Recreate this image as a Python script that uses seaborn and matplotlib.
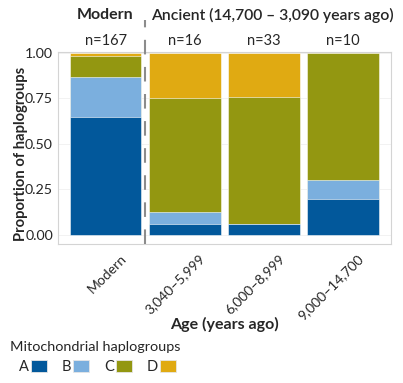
import matplotlib
matplotlib.use("Agg")
import matplotlib.pyplot as plt
import matplotlib.transforms as mtransforms
import pandas as pd
import seaborn as sns
from matplotlib.patches import Patch

# data: haplogroup counts per age group
ages = ["Modern", "3,040–5,999", "6,000–8,999", "9,000–14,700"]
haplogroups = ["A", "B", "C", "D"]
count_a = [108, 1, 2, 2]
count_b = [37, 1, 0, 1]
count_c = [19, 10, 23, 7]
count_d = [3, 4, 8, 0]
colors = {"A": "#02589B", "B": "#7BAFDE", "C": "#939711", "D": "#E0AA12"}

df = pd.DataFrame({"age": ages, "A": count_a, "B": count_b, "C": count_c, "D": count_d})
df["n"] = df[haplogroups].sum(axis=1)
for h in haplogroups:
    df[h] = df[h] / df["n"]

sns.set_style("white")
plt.rcParams["font.family"] = ["Lato", "DejaVu Sans"]

fig = plt.figure(figsize=(4.03, 3.83), dpi=100)
ax = fig.add_axes([0.145, 0.363, 0.824, 0.501])

# stacked bars: draw cumulative totals from top down
for i in range(len(haplogroups), 0, -1):
    h = haplogroups[i - 1]
    cum = df[haplogroups[:i]].sum(axis=1)
    sns.barplot(x=df["age"], y=cum, color=colors[h], width=0.9,
                edgecolor="white", linewidth=0.4, ax=ax, saturation=1)

ax.set_xlim(-0.6, 3.6)
ax.set_ylim(-0.05, 1.005)
ax.set_yticks([0, 0.25, 0.5, 0.75, 1.0])
ax.set_yticklabels(["0.00", "0.25", "0.50", "0.75", "1.00"])
ax.grid(axis="y", color="#f0f0f0", linewidth=0.6)
ax.set_axisbelow(True)
for s in ax.spines.values():
    s.set_color("#d4d4d4")
    s.set_linewidth(0.8)
ax.tick_params(axis="both", length=2, color="#555555", labelsize=10.3, pad=2)
ax.tick_params(axis="x", labelsize=10)
ax.set_xticks(range(len(ages)))
ax.set_xticklabels(ages, rotation=45, ha="right", rotation_mode="anchor")
shift = mtransforms.ScaledTranslation(14 / 100, -3 / 100, fig.dpi_scale_trans)
for lab in ax.get_xticklabels():
    lab.set_transform(lab.get_transform() + shift)
ax.set_xlabel("Age (years ago)", fontsize=11.5, fontweight="bold")
ax.xaxis.set_label_coords(0.5, -0.38)
ax.set_ylabel("Proportion of haplogroups", fontsize=10.6, fontweight="bold")
ax.yaxis.set_label_coords(-0.093, 0.47)

# sample sizes above the panel
for i, n in enumerate(df["n"]):
    ax.text(i, 1.03, f"n={n}", ha="center", va="bottom", fontsize=10.5,
            transform=ax.transData, clip_on=False)

# divider between modern and ancient
ax.plot([0.5, 0.5], [-0.05, 1.18], color="#8c8c8c", linestyle=(0, (7, 6)),
        linewidth=1.5, clip_on=False, zorder=5)

fig.text(105 / 403, 1 - 15 / 383, "Modern", ha="center", va="center",
         fontsize=11.5, fontweight="bold")
fig.text(272 / 403, 1 - 15 / 383, "Ancient (14,700 – 3,090 years ago)", ha="center",
         va="center", fontsize=11.3, fontweight="semibold")

# legend: title as separate text, entries indented below
fig.text(10 / 403, 1 - 347 / 383, "Mitochondrial haplogroups", ha="left", va="center",
         fontsize=10.4)
handles = [Patch(facecolor=colors[h], edgecolor="#e6e6e6", linewidth=0.6, label=h)
           for h in haplogroups]
fig.legend(handles=handles, loc="center left", bbox_to_anchor=(19 / 403, 1 - 367 / 383),
           ncol=4, frameon=False, markerfirst=False, fontsize=10.5,
           handlelength=1.1, handleheight=0.85, handletextpad=0.15,
           columnspacing=1.0, borderpad=0.0, borderaxespad=0.0)

fig.savefig("out.png", dpi=100)
